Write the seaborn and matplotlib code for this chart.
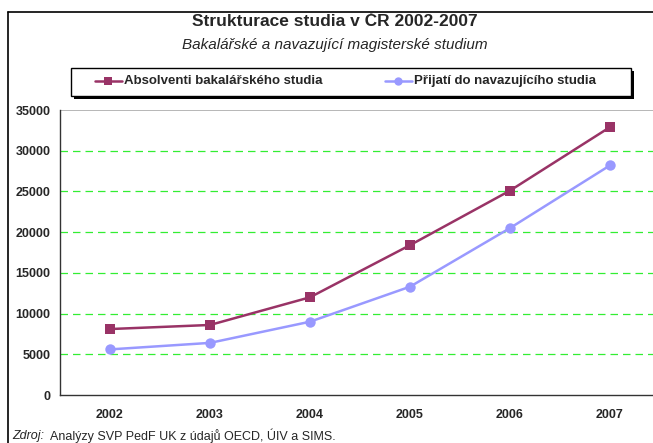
import matplotlib
matplotlib.use("Agg")
import matplotlib.pyplot as plt
import matplotlib.patches as mpatches
import seaborn as sns
import pandas as pd


# -----------------------------
# DATA
# -----------------------------
years = ["2002", "2003", "2004", "2005", "2006", "2007"]
absolventi = [8100, 8600, 12000, 18400, 25100, 32900]
prijati = [5600, 6400, 9000, 13300, 20500, 28200]
y_ticks = [0, 5000, 10000, 15000, 20000, 25000, 30000, 35000]

series_names = ["Absolventi bakalářského studia", "Přijatí do navazujícího studia"]


# -----------------------------
# CONFIG
# -----------------------------
sns.set_style("white")
plt.rcParams["font.family"] = ["Liberation Sans", "DejaVu Sans"]

BROWN = "#993366"
BLUE = "#9999FF"
GREEN = "#33EE33"


def build_frame() -> pd.DataFrame:
    rows = []
    for name, vals in zip(series_names, [absolventi, prijati]):
        for i, v in enumerate(vals):
            rows.append({"pos": i, "year": years[i], "value": v, "series": name})
    return pd.DataFrame(rows)


def main() -> None:
    df = build_frame()

    fig = plt.figure(figsize=(6.53, 4.43), dpi=100)
    W, H = 653, 443
    ax = fig.add_axes([60 / W, (H - 395) / H, 600 / W, 285 / H])

    sns.lineplot(
        data=df, x="pos", y="value", hue="series", style="series",
        palette=[BROWN, BLUE], markers=["s", "o"], dashes=False,
        markersize=7.5, linewidth=1.8, markeredgewidth=0, ax=ax, legend=False,
    )

    ax.set_xlim(-0.5, 5.5)
    ax.set_ylim(0, 35000)
    ax.set_xticks(range(len(years)))
    ax.set_xticklabels(years, fontsize=9, fontweight="bold")
    ax.set_xticks([i - 0.5 for i in range(len(years) + 1)], minor=True)
    ax.tick_params(axis="x", which="major", length=0, pad=10)
    ax.tick_params(axis="x", which="minor", length=4, width=0.8, direction="out", color="#333333")
    ax.set_yticks(y_ticks)
    ax.set_yticklabels([str(t) for t in y_ticks], fontsize=9, fontweight="bold")
    ax.tick_params(axis="y", length=4, width=0.8, direction="out", color="#333333", pad=3)
    ax.set_xlabel("")
    ax.set_ylabel("")

    for t in y_ticks[1:-1]:
        ax.axhline(t, color=GREEN, linestyle=(0, (6, 4)), linewidth=0.9, zorder=0)
    ax.axhline(35000, color="#aaaaaa", linewidth=1.2, zorder=0)

    for side in ["top", "right"]:
        ax.spines[side].set_visible(False)
    for side in ["left", "bottom"]:
        ax.spines[side].set_color("#333333")
        ax.spines[side].set_linewidth(1.0)

    # outer chart frame
    fig.add_artist(plt.Line2D([8 / W, 8 / W], [0, 1 - 12 / H], color="black", linewidth=1.2))
    fig.add_artist(plt.Line2D([8 / W, 1], [1 - 12 / H, 1 - 12 / H], color="black", linewidth=1.2))

    fig.text(335 / W, 1 - 22 / H, "Strukturace studia v ČR 2002-2007",
             ha="center", va="center", fontsize=12.5, fontweight="bold")
    fig.text(335 / W, 1 - 45 / H, "Bakalářské a navazující magisterské studium",
             ha="center", va="center", fontsize=11, style="italic")

    # legend box with shadow
    lx0, lx1, ly0, ly1 = 71, 631, 68, 96
    shadow = mpatches.Rectangle(((lx0 + 3) / W, 1 - (ly1 + 3) / H), (lx1 - lx0) / W, (ly1 - ly0) / H,
                                transform=fig.transFigure, facecolor="black", edgecolor="none")
    box = mpatches.Rectangle((lx0 / W, 1 - ly1 / H), (lx1 - lx0) / W, (ly1 - ly0) / H,
                             transform=fig.transFigure, facecolor="white", edgecolor="black", linewidth=1.0)
    fig.add_artist(shadow)
    fig.add_artist(box)
    yc = 1 - 81 / H
    for x0, color, marker, label in [(95, BROWN, "s", series_names[0]), (385, BLUE, "o", series_names[1])]:
        fig.add_artist(plt.Line2D([x0 / W, (x0 + 27) / W], [yc, yc], color=color, linewidth=1.8))
        fig.add_artist(plt.Line2D([(x0 + 13) / W], [yc], color=color, marker=marker, markersize=6,
                                  markeredgewidth=0))
        fig.text((x0 + 29) / W, yc, label, ha="left", va="center", fontsize=9.5, fontweight="bold")

    fig.text(12 / W, 1 - 436 / H, "Zdroj:", ha="left", va="center", fontsize=9, style="italic")
    fig.text(50 / W, 1 - 436 / H, "Analýzy SVP PedF UK z údajů OECD, ÚIV a SIMS.",
             ha="left", va="center", fontsize=9)

    fig.savefig("out.png", dpi=100)
    plt.close(fig)


if __name__ == "__main__":
    main()
